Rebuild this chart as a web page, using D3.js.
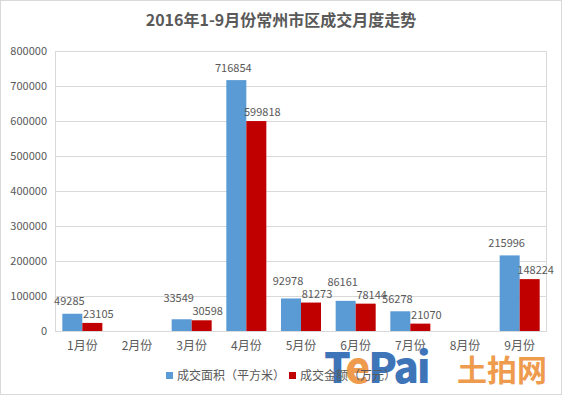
<!DOCTYPE html>
<html>
<head>
<meta charset="utf-8">
<script src="https://cdn.jsdelivr.net/npm/d3@7/dist/d3.min.js"></script>
<style>
  html, body { margin: 0; padding: 0; background: #fff; }
  svg { display: block; }
  text { font-family: "Noto Sans CJK SC", "Noto Sans", sans-serif; }
</style>
</head>
<body>
<svg id="chart" width="562" height="396"></svg>
<script>
const title = "2016年1-9月份常州市区成交月度走势";
const months = ["1月份", "2月份", "3月份", "4月份", "5月份", "6月份", "7月份", "8月份", "9月份"];
const seriesNames = ["成交面积（平方米）", "成交金额（万元）"];
const areaValues = [49285, null, 33549, 716854, 92978, 86161, 56278, null, 215996];
const amountValues = [23105, null, 30598, 599818, 81273, 78144, 21070, null, 148224];
const yTicks = [0, 100000, 200000, 300000, 400000, 500000, 600000, 700000, 800000];
const colors = ["#5B9BD5", "#C00000"];

const svg = d3.select("#chart");
const W = 562, H = 396;
const plot = { left: 55, right: 547, top: 51, bottom: 331 };
const textColor = "#595959";

// outer border
svg.append("rect").attr("x", 0.5).attr("y", 0.5).attr("width", W - 1).attr("height", 394)
  .attr("fill", "#fff").attr("stroke", "#D9D9D9").attr("stroke-width", 1);

const x = d3.scaleBand().domain(months).range([plot.left, plot.right])
  .paddingInner(0.268).paddingOuter(0.134);
const xSub = d3.scaleBand().domain([0, 1]).range([0, x.bandwidth()]);
const y = d3.scaleLinear().domain([0, 800000]).range([plot.bottom, plot.top]);

// gridlines
svg.append("g").selectAll("line").data(yTicks.filter(d => d > 0)).join("line")
  .attr("x1", plot.left).attr("x2", plot.right)
  .attr("y1", d => Math.round(y(d)) + 0.5).attr("y2", d => Math.round(y(d)) + 0.5)
  .attr("stroke", "#D9D9D9");
// frame sides
svg.append("line").attr("x1", plot.left + 0.5).attr("x2", plot.left + 0.5)
  .attr("y1", plot.top).attr("y2", plot.bottom).attr("stroke", "#D9D9D9");
svg.append("line").attr("x1", plot.right - 0.5).attr("x2", plot.right - 0.5)
  .attr("y1", plot.top).attr("y2", plot.bottom).attr("stroke", "#D9D9D9");

// y axis
const yAxis = d3.axisLeft(y).tickValues(yTicks).tickSize(0).tickPadding(8).tickFormat(d3.format("d"));
const gy = svg.append("g").attr("transform", `translate(${plot.left},0)`).call(yAxis);
gy.select(".domain").remove();
gy.selectAll("text").attr("fill", textColor).attr("font-size", 11)
  .attr("font-family", "Noto Sans CJK SC, sans-serif");

// bars
const data = months.map((m, i) => ({ m, vals: [areaValues[i], amountValues[i]] }));
const groups = svg.append("g").selectAll("g").data(data).join("g")
  .attr("transform", d => `translate(${x(d.m)},0)`);
groups.selectAll("rect").data(d => d.vals.map((v, k) => ({ v, k })).filter(e => e.v != null)).join("rect")
  .attr("x", e => xSub(e.k)).attr("width", xSub.bandwidth())
  .attr("y", e => y(e.v)).attr("height", e => y(0) - y(e.v))
  .attr("fill", e => colors[e.k]);

// x axis
const xAxis = d3.axisBottom(x).tickSize(0).tickPadding(10);
const gx = svg.append("g").attr("transform", `translate(0,${plot.bottom})`).call(xAxis);
gx.select(".domain").attr("stroke", "#D9D9D9").attr("d", `M${plot.left},0.5H${plot.right}`);
gx.selectAll("text").attr("fill", textColor).attr("font-size", 12);

// data labels with simple collision avoidance
const labels = svg.append("g").attr("fill", textColor).attr("font-size", 11).attr("text-anchor", "middle");
data.forEach(d => {
  const [a, b] = d.vals;
  const x0 = x(d.m);
  let redBase = null;
  if (b != null) {
    redBase = y(b) - 5;
    labels.append("text").attr("x", x0 + xSub(1) + xSub.bandwidth() / 2 + 6).attr("y", redBase).text(b);
  }
  if (a != null) {
    let blueBase = y(a) - 8;
    if (redBase != null && blueBase > redBase - 13) blueBase = redBase - 13;
    labels.append("text").attr("x", x0 + xSub(0) + xSub.bandwidth() / 2 - 3).attr("y", blueBase).text(a);
  }
});

// title
svg.append("text").attr("x", 281).attr("y", 26).attr("text-anchor", "middle")
  .attr("font-size", 16).attr("font-weight", 700).attr("fill", textColor).text(title);

// logo (bottom-right)
const logo = svg.append("g");
const tp = logo.append("text").attr("x", 324).attr("y", 383).attr("font-size", 42).attr("font-weight", 800)
  .attr("font-family", "Noto Sans, sans-serif").attr("letter-spacing", -2);
tp.append("tspan").attr("fill", "#3E74B8").text("T");
tp.append("tspan").attr("fill", "#EE9B4E").text("e");
tp.append("tspan").attr("fill", "#3E74B8").text("Pai");
logo.append("text").attr("x", 457).attr("y", 381).attr("font-size", 30).attr("font-weight", 700)
  .attr("fill", "#EE9B4E").text("土拍网");

// legend
const legend = svg.append("g").attr("font-size", 12).attr("fill", textColor);
const legendX = [166, 289];
seriesNames.forEach((name, i) => {
  legend.append("rect").attr("x", legendX[i]).attr("y", 372).attr("width", 7).attr("height", 7).attr("fill", colors[i]);
  legend.append("text").attr("x", legendX[i] + 11).attr("y", 380).text(name);
});
</script>
</body>
</html>
